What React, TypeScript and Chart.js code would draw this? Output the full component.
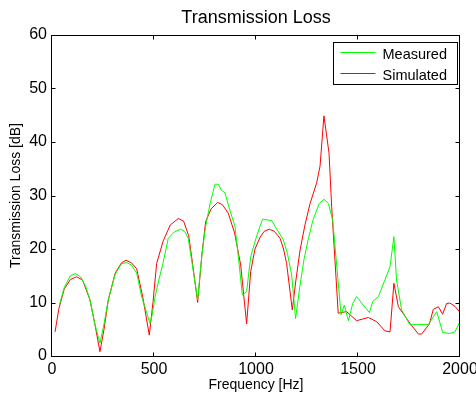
import { useEffect, useRef } from "react";
import { Chart, registerables } from "chart.js";

Chart.register(...registerables);

const chartTitle = "Transmission Loss";
const xTitle = "Frequency [Hz]";
const yTitle = "Transmission Loss [dB]";
const seriesLabels = ["Measured", "Simulated"];
const seriesColors = ["#00ff00", "#ff0000"];

const xTicks = [0, 500, 1000, 1500, 2000];
const yTicks = [0, 10, 20, 30, 40, 50, 60];

const measuredFreq = [
  36, 60, 90, 115, 140, 165, 186, 210, 235, 255, 276, 310, 340, 365, 390, 415,
  440, 465, 480, 490, 505, 520, 545, 570, 600, 631, 650, 668, 690, 714, 735,
  753, 775, 799, 815, 830, 848, 870, 897, 915, 933, 954, 974, 1000, 1020, 1033,
  1077, 1105, 1134, 1155, 1175, 1194, 1215, 1235, 1257, 1280, 1310, 1333, 1355,
  1376, 1417, 1433, 1453, 1474, 1493, 1526, 1556, 1572, 1600, 1632, 1657, 1676,
  1689, 1714, 1755, 1788, 1845, 1886, 1915, 1948, 1975, 1997,
];
const measuredTL = [
  9.5, 12.8, 15.0, 15.4, 14.8, 13, 10.5, 6, 2.4, 6, 10.5, 15.3, 17.2, 17.5, 17,
  15.5, 11, 8, 6.1, 7.5, 11, 13.6, 17.5, 22, 23.2, 23.7, 23.3, 22, 16.5, 10.5,
  19, 24.2, 28.5, 32.1, 32.1, 31, 30.5, 27.5, 24.2, 18, 11.4, 12, 18.6, 22,
  24.3, 25.6, 25.3, 23.5, 21.7, 19, 15.1, 7.0, 13, 18, 22, 25.5, 28.5, 29.3,
  28.5, 25.4, 7.7, 9.5, 6.6, 9.8, 11.1, 9.5, 8.1, 10.2, 11.1, 14.2, 16.7, 22.3,
  14.2, 8.6, 5.8, 5.9, 5.9, 8.3, 4.4, 4.2, 4.5, 6.2,
];

const simulatedFreq = [
  15, 34, 60, 90, 121, 150, 186, 210, 235, 255, 276, 310, 340, 363, 390, 415,
  445, 477, 495, 513, 545, 580, 619, 645, 670, 690, 714, 735, 753, 780, 812,
  835, 864, 895, 925, 954, 974, 995, 1020, 1040, 1065, 1090, 1118, 1135, 1150,
  1178, 1195, 1216, 1240, 1265, 1297, 1314, 1333, 1358, 1371, 1403, 1444, 1493,
  1551, 1592, 1632, 1657, 1676, 1698, 1755, 1796, 1812, 1850, 1869, 1894, 1915,
  1934, 1950, 1975, 1997,
];
const simulatedTL = [
  4.5, 8.9, 12.5, 14.3, 14.8, 14.2, 10.5, 6, 0.8, 5, 10.5, 15.5, 17.4, 17.9,
  17.4, 16.3, 11, 3.9, 10, 17.3, 21.5, 24.5, 25.7, 25.2, 22.5, 17, 10.0, 19,
  25.1, 27.5, 28.7, 28.3, 26.7, 23, 17, 6.0, 15.8, 20, 22.2, 23.3, 23.7, 23.3,
  22, 20, 17.3, 8.6, 14, 19.8, 24.5, 28.5, 32.3, 35.5, 44.9, 37.9, 27.9, 8.0,
  8.3, 6.6, 7.2, 6.4, 4.7, 4.5, 13.6, 9.2, 6.1, 4.1, 4.1, 6, 8.7, 9.2, 7.8, 9.8,
  9.9, 9.3, 8.3,
];

const FONT = "'Liberation Sans', Arial, Helvetica, sans-serif";

const framePlugin = {
  id: "matlabFrame",
  afterDatasetsDraw(chart: any) {
    const { ctx, chartArea, scales } = chart;
    const { left, right, top, bottom } = chartArea;
    const x = scales.x;
    const y = scales.y;
    ctx.save();
    ctx.strokeStyle = "#000";
    ctx.lineWidth = 1;
    const L = Math.round(left) - 0.5;
    const R = Math.round(right) - 0.5;
    const T = Math.round(top) + 0.5;
    const B = Math.round(bottom) + 0.5;
    ctx.strokeRect(L, T, R - L, B - T);
    const tl = 4;
    ctx.beginPath();
    xTicks.forEach((v) => {
      const px = Math.round(x.getPixelForValue(v)) - 0.5;
      ctx.moveTo(px, B);
      ctx.lineTo(px, B - tl);
      ctx.moveTo(px, T);
      ctx.lineTo(px, T + tl);
    });
    yTicks.forEach((v) => {
      const py = Math.round(y.getPixelForValue(v)) + 0.5;
      ctx.moveTo(L, py);
      ctx.lineTo(L + tl, py);
      ctx.moveTo(R, py);
      ctx.lineTo(R - tl, py);
    });
    ctx.stroke();

    // legend box inside the axes, top-right
    const bw = 124;
    const bh = 42;
    const bx = Math.round(right) - 2 - bw - 0.5;
    const by = Math.round(top) + 7 + 0.5;
    ctx.fillStyle = "#fff";
    ctx.fillRect(bx, by, bw, bh);
    ctx.strokeRect(bx, by, bw, bh);
    ctx.font = `14.5px ${FONT}`;
    ctx.textBaseline = "middle";
    ctx.textAlign = "left";
    seriesLabels.forEach((lab, i) => {
      const ly = by + 10 + i * 21;
      ctx.strokeStyle = seriesColors[i];
      ctx.beginPath();
      ctx.moveTo(bx + 7, ly);
      ctx.lineTo(bx + 42, ly);
      ctx.stroke();
      ctx.fillStyle = "#000";
      ctx.fillText(lab, bx + 49, ly + 2.5);
    });
    ctx.restore();
  },
};

export default function App() {
  const ref = useRef<HTMLCanvasElement | null>(null);
  useEffect(() => {
    if (!ref.current) return;
    const measured = measuredFreq.map((f, i) => ({ x: f, y: measuredTL[i] }));
    const simulated = simulatedFreq.map((f, i) => ({ x: f, y: simulatedTL[i] }));
    const chart = new Chart(ref.current, {
      type: "line",
      data: {
        datasets: [
          {
            label: seriesLabels[0],
            data: measured,
            borderColor: seriesColors[0],
            backgroundColor: seriesColors[0],
            borderWidth: 1,
            pointRadius: 0,
            tension: 0,
            fill: false,
          },
          {
            label: seriesLabels[1],
            data: simulated,
            borderColor: seriesColors[1],
            backgroundColor: seriesColors[1],
            borderWidth: 1,
            pointRadius: 0,
            tension: 0,
            fill: false,
          },
        ],
      },
      options: {
        animation: false,
        responsive: false,
        events: [],
        layout: { padding: { left: 0, right: 16, top: 0, bottom: 0 } },
        plugins: {
          legend: { display: false },
          tooltip: { enabled: false },
          title: {
            display: true,
            text: chartTitle,
            fullSize: false,
            color: "#000",
            font: { family: FONT, size: 18, weight: "normal" },
            padding: { top: 7, bottom: 6.4 },
          },
        },
        scales: {
          x: {
            type: "linear",
            min: 0,
            max: 2000,
            afterBuildTicks: (s: any) => {
              s.ticks = xTicks.map((v) => ({ value: v }));
            },
            afterFit: (s: any) => {
              s.height = 40;
              s.paddingLeft = 0;
              s.paddingRight = 0;
            },
            grid: { display: false, drawTicks: false, tickLength: 0 },
            border: { display: false },
            ticks: {
              color: "#000",
              font: { family: FONT, size: 16 },
              padding: 4,
              maxRotation: 0,
              autoSkip: false,
              callback: (v: any) => String(v),
            },
            title: {
              display: true,
              text: xTitle,
              color: "#000",
              font: { family: FONT, size: 14 },
              padding: { top: 0, bottom: 2 },
            },
          },
          y: {
            type: "linear",
            min: 0,
            max: 60,
            afterBuildTicks: (s: any) => {
              s.ticks = yTicks.map((v) => ({ value: v }));
            },
            afterFit: (s: any) => {
              s.width = 52;
              s.paddingTop = 0;
              s.paddingBottom = 0;
            },
            grid: { display: false, drawTicks: false, tickLength: 0 },
            border: { display: false },
            ticks: {
              color: "#000",
              font: { family: FONT, size: 16 },
              padding: 5,
              autoSkip: false,
              callback: (v: any) => String(v),
            },
            title: {
              display: true,
              text: yTitle,
              color: "#000",
              font: { family: FONT, size: 14 },
              padding: { top: 8, bottom: 0 },
            },
          },
        },
      },
      plugins: [framePlugin],
    });
    return () => chart.destroy();
  }, []);
  return (
    <div style={{ position: "fixed", left: 0, top: 0, width: 476, height: 396, background: "#fff" }}>
      <canvas ref={ref} width={476} height={396} style={{ display: "block" }} />
    </div>
  );
}
